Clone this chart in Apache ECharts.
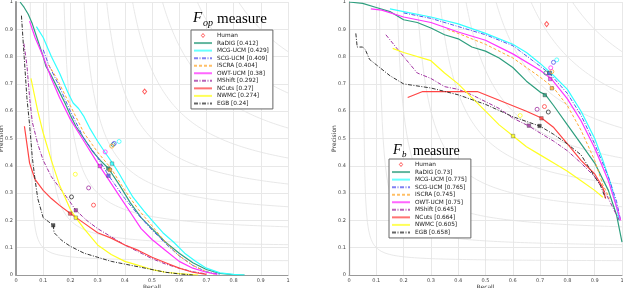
<!DOCTYPE html>
<html><head><meta charset="utf-8">
<script src="https://cdn.jsdelivr.net/npm/echarts@6/dist/echarts.min.js"></script>
<style>html,body{margin:0;padding:0;background:#fff}#c{width:623px;height:288px}</style>
</head><body><div id="c"></div>
<script>
const axisTicks = [0,0.1,0.2,0.3,0.4,0.5,0.6,0.7,0.8,0.9,1];
const isoF = [0.1,0.2,0.3,0.4,0.5,0.6,0.7,0.8,0.9];
const methods = ['RaDIG','MCG-UCM','SCG-UCM','ISCRA','OWT-UCM','MShift','NCuts','NWMC','EGB'];
const fopScores = ['0.412','0.429','0.409','0.404','0.38','0.292','0.27','0.274','0.24'];
const fbScores = ['0.73','0.775','0.765','0.745','0.75','0.645','0.664','0.605','0.658'];

// ---- F_op panel curves [recall, precision]
const fopRaDIG = [[0.015,1.0],[0.03,0.98],[0.045,0.955],[0.06,0.92],[0.08,0.86],[0.1,0.8],[0.11,0.765],[0.13,0.73],[0.15,0.69],[0.18,0.63],[0.2,0.585],[0.22,0.545],[0.25,0.5],[0.28,0.455],[0.31,0.42],[0.34,0.39],[0.38,0.33],[0.42,0.265],[0.46,0.21],[0.5,0.17],[0.55,0.12],[0.6,0.08],[0.65,0.045],[0.7,0.02],[0.75,0.006],[0.8,0.001],[0.84,0]];
const fopMCG = [[0.075,0.91],[0.1,0.87],[0.13,0.8],[0.16,0.74],[0.19,0.67],[0.21,0.63],[0.23,0.61],[0.25,0.58],[0.27,0.54],[0.3,0.49],[0.33,0.445],[0.355,0.41],[0.38,0.37],[0.4,0.335],[0.43,0.285],[0.47,0.235],[0.5,0.2],[0.54,0.155],[0.58,0.12],[0.62,0.08],[0.66,0.05],[0.7,0.025],[0.75,0.008],[0.8,0.002],[0.84,0]];
const fopSCG = [[0.1,0.825],[0.12,0.77],[0.15,0.71],[0.2,0.6],[0.25,0.5],[0.3,0.43],[0.34,0.365],[0.4,0.28],[0.45,0.22],[0.5,0.165],[0.55,0.115],[0.6,0.07],[0.65,0.035],[0.7,0.012],[0.75,0.002]];
const fopISCRA = [[0.12,0.77],[0.15,0.72],[0.2,0.62],[0.25,0.52],[0.3,0.45],[0.35,0.39],[0.4,0.31],[0.45,0.24],[0.5,0.18],[0.55,0.12],[0.6,0.07],[0.65,0.035],[0.7,0.012],[0.73,0.003]];
const fopOWT = [[0.05,0.93],[0.07,0.87],[0.1,0.8],[0.13,0.72],[0.16,0.65],[0.2,0.57],[0.25,0.49],[0.3,0.41],[0.34,0.35],[0.38,0.29],[0.42,0.23],[0.46,0.17],[0.5,0.13],[0.55,0.09],[0.6,0.05],[0.65,0.025],[0.7,0.01],[0.74,0.002]];
const fopMShift = [[0.029,0.848],[0.04,0.77],[0.05,0.65],[0.06,0.56],[0.08,0.48],[0.1,0.42],[0.13,0.36],[0.16,0.32],[0.19,0.28],[0.22,0.237],[0.26,0.2],[0.3,0.17],[0.35,0.14],[0.4,0.11],[0.45,0.085],[0.5,0.06],[0.55,0.04],[0.6,0.025],[0.65,0.012],[0.7,0.004]];
const fopNCuts = [[0.031,0.545],[0.05,0.41],[0.07,0.35],[0.1,0.31],[0.13,0.28],[0.16,0.255],[0.2,0.225],[0.25,0.19],[0.3,0.155],[0.35,0.135],[0.4,0.11],[0.45,0.09],[0.5,0.065],[0.55,0.045],[0.6,0.025],[0.65,0.01],[0.7,0.002]];
const fopNWMC = [[0.055,0.72],[0.08,0.6],[0.1,0.52],[0.13,0.42],[0.16,0.33],[0.2,0.24],[0.22,0.21],[0.25,0.17],[0.3,0.11],[0.35,0.075],[0.4,0.05],[0.45,0.035],[0.5,0.02],[0.55,0.01],[0.6,0.005],[0.67,0]];
const fopEGB = [[0.02,0.95],[0.03,0.8],[0.04,0.65],[0.05,0.55],[0.06,0.43],[0.07,0.35],[0.08,0.28],[0.1,0.21],[0.12,0.195],[0.137,0.182],[0.14,0.155],[0.17,0.125],[0.2,0.105],[0.25,0.08],[0.3,0.065],[0.35,0.05],[0.4,0.04],[0.45,0.03],[0.5,0.02],[0.55,0.01],[0.6,0.004],[0.65,0]];
const fopHuman = [[0.473,0.672]];
const fopOpen = [[0.357,0.478],[0.379,0.489],[0.361,0.482],[0.352,0.472],[0.328,0.451],[0.267,0.319],[0.285,0.256],[0.218,0.369],[0.204,0.286]];
const fopFilled = [[0.339,0.39],[0.353,0.408],[0.34,0.364],[0.345,0.385],[0.308,0.399],[0.22,0.237],[0.199,0.225],[0.22,0.21],[0.137,0.182]];

// ---- F_b panel curves
const fbRaDIG = [[0,1.0],[0.05,0.995],[0.1,0.98],[0.15,0.965],[0.2,0.935],[0.25,0.925],[0.3,0.905],[0.35,0.88],[0.4,0.865],[0.45,0.835],[0.5,0.82],[0.55,0.795],[0.6,0.76],[0.65,0.71],[0.7,0.67],[0.72,0.66],[0.75,0.62],[0.8,0.55],[0.85,0.48],[0.9,0.41],[0.95,0.31],[0.98,0.22],[1.0,0.12]];
const fbMCG = [[0.15,0.975],[0.2,0.965],[0.3,0.945],[0.4,0.92],[0.5,0.885],[0.6,0.845],[0.65,0.815],[0.7,0.775],[0.75,0.73],[0.8,0.68],[0.85,0.6],[0.9,0.5],[0.93,0.42],[0.96,0.33],[0.98,0.25],[0.99,0.2]];
const fbSCG = [[0.2,0.96],[0.3,0.94],[0.4,0.91],[0.5,0.88],[0.6,0.84],[0.7,0.765],[0.735,0.738],[0.8,0.665],[0.85,0.585],[0.9,0.48],[0.95,0.36],[0.98,0.27],[0.995,0.2]];
const fbISCRA = [[0.36,0.9],[0.4,0.885],[0.5,0.845],[0.6,0.795],[0.7,0.725],[0.75,0.685],[0.8,0.62],[0.85,0.53],[0.9,0.42],[0.93,0.33],[0.955,0.28]];
const fbOWT = [[0.08,0.975],[0.12,0.97],[0.2,0.945],[0.3,0.925],[0.4,0.89],[0.5,0.86],[0.6,0.81],[0.7,0.75],[0.74,0.72],[0.8,0.645],[0.85,0.565],[0.9,0.465],[0.95,0.345],[0.98,0.25],[0.995,0.2]];
const fbMShift = [[0.135,0.88],[0.2,0.8],[0.25,0.74],[0.3,0.72],[0.35,0.69],[0.4,0.68],[0.45,0.66],[0.5,0.635],[0.55,0.61],[0.6,0.575],[0.66,0.545],[0.7,0.52],[0.75,0.49],[0.8,0.455],[0.85,0.41],[0.9,0.36],[0.94,0.3],[0.97,0.24],[0.99,0.2]];
const fbNCuts = [[0.215,0.65],[0.27,0.672],[0.35,0.672],[0.47,0.672],[0.55,0.64],[0.65,0.6],[0.705,0.575],[0.75,0.54],[0.8,0.48],[0.85,0.42],[0.9,0.37],[0.93,0.32],[0.94,0.28]];
const fbNWMC = [[0.16,0.83],[0.2,0.815],[0.3,0.785],[0.35,0.74],[0.4,0.7],[0.45,0.65],[0.5,0.6],[0.55,0.55],[0.6,0.51],[0.65,0.47],[0.7,0.44],[0.75,0.41],[0.8,0.38],[0.85,0.345],[0.9,0.31],[0.93,0.285]];
const fbEGB = [[0.025,0.885],[0.03,0.835],[0.05,0.835],[0.06,0.825],[0.075,0.79],[0.1,0.77],[0.15,0.73],[0.2,0.7],[0.3,0.685],[0.4,0.66],[0.5,0.625],[0.6,0.58],[0.7,0.545],[0.75,0.515],[0.8,0.48],[0.85,0.44],[0.9,0.36],[0.92,0.33],[0.94,0.28]];
const fbHuman = [[0.724,0.919]];
const fbOpen = [[0.721,0.74],[0.761,0.788],[0.749,0.779],[0.743,0.745],[0.739,0.759],[0.689,0.607],[0.716,0.617],[0.627,0.584],[0.73,0.597]];
const fbFilled = [[0.717,0.659],[0.736,0.74],[0.734,0.739],[0.743,0.684],[0.737,0.718],[0.659,0.547],[0.705,0.574],[0.601,0.509],[0.698,0.546]];

const fopCurves = [fopRaDIG,fopMCG,fopSCG,fopISCRA,fopOWT,fopMShift,fopNCuts,fopNWMC,fopEGB];
const fbCurves = [fbRaDIG,fbMCG,fbSCG,fbISCRA,fbOWT,fbMShift,fbNCuts,fbNWMC,fbEGB];

const styles = [
  {color:'#2e9e7e', type:'solid', width:1.2},
  {color:'#33ffff', type:'solid', width:1.2},
  {color:'#5555ee', type:[4,1.5,1,1.5], width:1},
  {color:'#ffaa33', type:[3,2], width:1},
  {color:'#ff33ff', type:'solid', width:1.2},
  {color:'#a030a0', type:[4,1.5,1,1.5], width:1},
  {color:'#ff4444', type:'solid', width:1.2},
  {color:'#ffff22', type:'solid', width:1.2},
  {color:'#333333', type:[4,1.5,1,1.5], width:1}
];

const chart = echarts.init(document.getElementById('c'));
const series = [];
const FONT = 'DejaVu Sans';
const SERIF = 'Liberation Serif';

function isoSeries(gi) {
  isoF.forEach(f => {
    const pts = [];
    const r0 = f / (2 - f);
    const n = 80;
    for (let i = 0; i <= n; i++) {
      const r = r0 + (1 - r0) * Math.pow(i / n, 1.6);
      pts.push([r, f * r / (2 * r - f)]);
    }
    series.push({type:'line', xAxisIndex:gi, yAxisIndex:gi, data:pts, symbol:'none', silent:true,
      lineStyle:{color:'#e2e2e2', width:0.8}, z:1});
  });
}
isoSeries(0); isoSeries(1);

function panel(gi, curves, scores, human, open, filled) {
  const items = [];
  series.push({type:'scatter', name:'Human', xAxisIndex:gi, yAxisIndex:gi, data:human, symbol:'diamond', symbolSize:[4,5],
    itemStyle:{color:'#fff', borderColor:'#ff3333', borderWidth:1}, z:5});
  items.push({name:'Human', icon:'path://M4,0L8,5L4,10L0,5Z', itemStyle:{color:'#fff', borderColor:'#ff3333', borderWidth:1}});
  curves.forEach((c, i) => {
    const nm = methods[i] + ' [' + scores[i] + ']';
    items.push({name:nm, itemStyle:{opacity:0}, lineStyle:{width:2, opacity:0.75}});
    series.push({type:'line', name:nm, xAxisIndex:gi, yAxisIndex:gi, data:c, symbol:'none',
      lineStyle:{color:styles[i].color, type:styles[i].type, width:styles[i].width}, itemStyle:{color:styles[i].color}, z:3});
    series.push({type:'scatter', name:nm+' o', xAxisIndex:gi, yAxisIndex:gi, data:[open[i]], symbol:'circle', symbolSize:4,
      itemStyle:{color:'rgba(255,255,255,0)', borderColor:styles[i].color, borderWidth:1}, z:4});
    series.push({type:'scatter', name:nm+' f', xAxisIndex:gi, yAxisIndex:gi, data:[filled[i]], symbol:'rect', symbolSize:3.5,
      itemStyle:{color:styles[i].color, borderColor:'#222', borderWidth:0.4}, z:4});
  });
  return items;
}
const n0 = panel(0, fopCurves, fopScores, fopHuman, fopOpen, fopFilled);
const n1 = panel(1, fbCurves, fbScores, fbHuman, fbOpen, fbFilled);

function xAx(gi) {
  return {type:'value', gridIndex:gi, min:0, max:1, interval:0.1, name:'Recall', nameLocation:'middle', nameGap:9,
    nameMoveOverlap:false,
    nameTextStyle:{fontSize:6, fontFamily:FONT, color:'#333'},
    axisLine:{show:true, lineStyle:{color:'#999', width:1.2}}, axisTick:{show:false},
    axisLabel:{fontSize:5, fontFamily:FONT, color:'#444', margin:3},
    splitLine:{show:true, lineStyle:{color:'#e8e8e8', width:1}}};
}
function yAx(gi) {
  return {type:'value', gridIndex:gi, min:0, max:1, interval:0.1, name:'Precision', nameLocation:'middle', nameGap:12,
    nameMoveOverlap:false,
    nameTextStyle:{fontSize:6, fontFamily:FONT, color:'#333'},
    axisLine:{show:true, lineStyle:{color:'#999', width:gi===0?2:1.2}}, axisTick:{show:false},
    axisLabel:{fontSize:5, fontFamily:FONT, color:'#444', margin:3},
    splitLine:{show:true, lineStyle:{color:'#e8e8e8', width:1}}};
}

function legendOf(items, left, top) {
  return {data:items, orient:'vertical', left:left, top:top, itemWidth:18, itemHeight:4, itemGap:0.55,
    padding:[2,4,2,2], backgroundColor:'#fff', borderColor:'#666', borderWidth:1,
    textStyle:{fontSize:5.8, fontFamily:FONT, color:'#222', lineHeight:7}, selectedMode:false};
}

function titleText(x, y, sub, subX, mX, size) {
  return [
    {type:'text', left:x, top:y, style:{text:'F', font:'italic ' + size + 'px "' + SERIF + '"', fill:'#000'}, z:100},
    {type:'text', left:subX, top:y + 7, style:{text:sub, font:'italic ' + Math.round(size*0.66) + 'px "' + SERIF + '"', fill:'#000'}, z:100},
    {type:'text', left:mX, top:y + 1, style:{text:'measure', font:size + 'px "' + SERIF + '"', fill:'#000'}, z:100}
  ];
}

chart.setOption({
  animation:false,
  graphic: titleText(193, 11, 'op', 203, 217, 15).concat(titleText(393, 143, 'b', 402, 413, 14)),
  legend:[legendOf(n0, 191, 30), legendOf(n1, 389, 159)],
  grid:[
    {left:16, top:2, width:272, height:273, outerBoundsMode:'none', containLabel:false},
    {left:349, top:2, width:273, height:273, outerBoundsMode:'none', containLabel:false}
  ],
  xAxis:[xAx(0), xAx(1)],
  yAxis:[yAx(0), yAx(1)],
  series:series
});
</script></body></html>
